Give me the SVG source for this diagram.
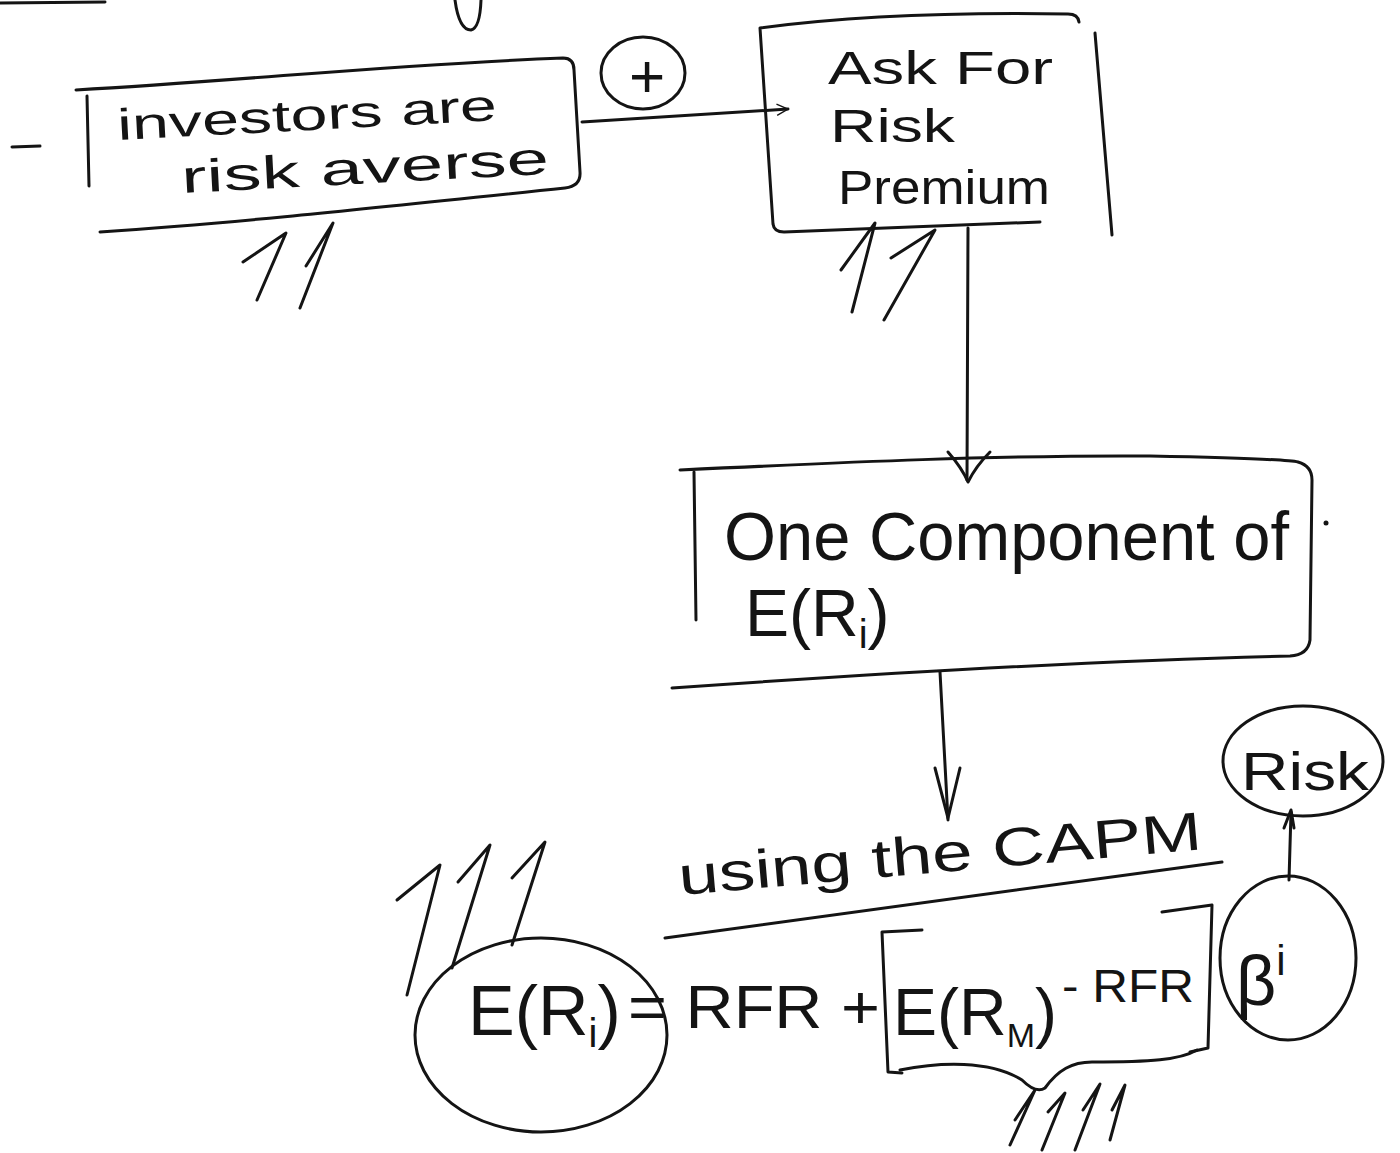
<svg xmlns="http://www.w3.org/2000/svg" width="1400" height="1153" viewBox="0 0 1400 1153">
<style>
.ink{fill:none;stroke:#141414;stroke-width:3;stroke-linecap:round;stroke-linejoin:round}
.t{font-family:"Liberation Sans",Arial,sans-serif;fill:#141414}
</style>
<defs>
<marker id="open" viewBox="0 0 20 20" refX="18" refY="10" markerWidth="14" markerHeight="14" markerUnits="userSpaceOnUse" orient="auto">
<path d="M2,2 L18,10 L2,18" fill="none" stroke="#141414" stroke-width="2"/>
</marker>
</defs>
<rect width="1400" height="1153" fill="#ffffff"/>

<g id="fragments">
<path class="ink" d="M0,3 L105,2"/>
<path class="ink" d="M455,0 Q459,30 471,30 Q480,28 481,0"/>
</g>

<g id="n-investors">
<path class="ink" d="M12,147 L40,146"/>
<path class="ink" d="M76,90 C250,80 400,64 563,58 Q574,58 574,70 L580,172 Q581,186 565,188 C400,205 250,222 100,232"/>
<path class="ink" d="M87,96 L89,186"/>
<text class="t" x="118" y="140" font-size="44" textLength="380" lengthAdjust="spacingAndGlyphs" transform="rotate(-3 118 140)">investors are</text>
<text class="t" x="182" y="193" font-size="46" textLength="368" lengthAdjust="spacingAndGlyphs" transform="rotate(-3 182 193)">risk averse</text>
<path class="ink" d="M243,262 L286,233 L257,300"/>
<path class="ink" d="M306,266 L333,223 L300,308"/>
</g>

<g id="n-plus">
<ellipse class="ink" cx="643" cy="73" rx="42" ry="36"/>
<text class="t" x="647" y="97" font-size="62" text-anchor="middle">+</text>
</g>

<g id="n-ask">
<path class="ink" d="M1079,22 Q1078,14 1068,14 C950,12 850,16 760,28 L773,224 Q774,232 784,232 L1040,222"/>
<path class="ink" d="M1095,33 L1112,235"/>
<text class="t" x="828" y="84" font-size="46" textLength="225" lengthAdjust="spacingAndGlyphs">Ask For</text>
<text class="t" x="830" y="142" font-size="46" textLength="125" lengthAdjust="spacingAndGlyphs">Risk</text>
<text class="t" x="838" y="204" font-size="48" textLength="212" lengthAdjust="spacingAndGlyphs">Premium</text>
<path class="ink" d="M841,270 L875,223 L852,312"/>
<path class="ink" d="M891,258 L935,230 L884,320"/>
</g>

<g id="n-component">
<path class="ink" d="M680,470 C850,462 1000,455 1150,456 C1250,458 1290,460 1298,462 Q1312,466 1312,480 L1310,640 Q1308,655 1290,656 C1100,660 900,672 672,688"/>
<path class="ink" d="M694,472 L696,620"/>
<text class="t" x="724" y="560" font-size="68" textLength="565" lengthAdjust="spacingAndGlyphs">One Component of</text>
<text class="t" x="745" y="636" font-size="66">E(R<tspan font-size="40" dy="12">i</tspan><tspan dy="-12">)</tspan></text>
<circle cx="1326" cy="523" r="2.5" fill="#141414"/>
</g>

<g id="n-capm">
<text class="t" x="680" y="895" font-size="54" textLength="525" lengthAdjust="spacingAndGlyphs" transform="rotate(-5 680 895)">using the CAPM</text>
<path class="ink" d="M665,938 L1222,862"/>
</g>

<g id="n-formula">
<path class="ink" d="M922,930 L882,932 L888,1072 L902,1073"/>
<path class="ink" d="M1162,912 L1212,905 L1208,1048 L1190,1052"/>
<text class="t" x="628" y="1028" font-size="62" textLength="252" lengthAdjust="spacingAndGlyphs">= RFR +</text>
<text class="t" x="893" y="1035" font-size="66">E(R<tspan font-size="34" dy="12">M</tspan><tspan dy="-12">)</tspan></text>
<text class="t" x="1062" y="1002" font-size="46" textLength="132" lengthAdjust="spacingAndGlyphs">- RFR</text>
<path class="ink" d="M900,1070 C940,1062 990,1060 1022,1080 Q1036,1094 1045,1088 C1058,1070 1072,1062 1092,1062 C1150,1062 1180,1060 1197,1050"/>
<path class="ink" d="M1015,1120 L1035,1090 L1010,1145"/>
<path class="ink" d="M1048,1112 L1065,1093 L1042,1150"/>
<path class="ink" d="M1083,1110 L1100,1084 L1075,1150"/>
<path class="ink" d="M1112,1110 L1125,1085 L1110,1140"/>
</g>

<g id="n-eri">
<ellipse class="ink" cx="541" cy="1035" rx="126" ry="97"/>
<text class="t" x="468" y="1035" font-size="70">E(R<tspan font-size="40" dy="12">i</tspan><tspan dy="-12">)</tspan></text>
<path class="ink" d="M397,900 L440,865 L407,995"/>
<path class="ink" d="M458,882 L490,845 L452,968"/>
<path class="ink" d="M512,878 L545,842 L512,945"/>
</g>

<g id="n-beta">
<ellipse class="ink" cx="1288" cy="958" rx="68" ry="82"/>
<text class="t" x="1236" y="1005" font-size="70">β<tspan font-size="42" dy="-30">i</tspan></text>
</g>

<g id="n-risk">
<ellipse class="ink" cx="1303" cy="761" rx="80" ry="55"/>
<text class="t" x="1241" y="790" font-size="54" textLength="128" lengthAdjust="spacingAndGlyphs">Risk</text>
</g>

<g id="connectors">
<path class="ink" d="M582,122 L788,109" marker-end="url(#open)"/>
<path class="ink" d="M968,228 L967,480"/>
<path class="ink" d="M948,452 Q962,468 968,482 Q976,466 990,452"/>
<path class="ink" d="M940,672 L948,820"/>
<path class="ink" d="M935,768 L948,818 L960,768"/>
<path class="ink" d="M1289,880 L1291,812"/>
<path class="ink" d="M1284,828 L1291,810 L1294,828"/>
</g>
</svg>
